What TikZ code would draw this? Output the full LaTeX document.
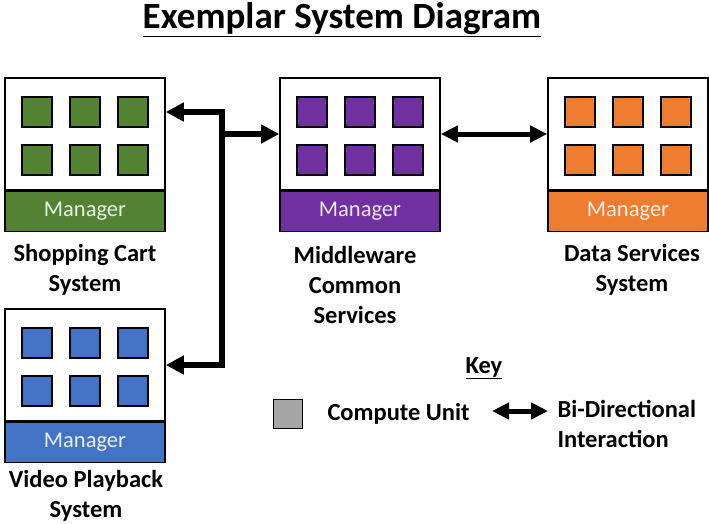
\documentclass[tikz,border=0pt]{standalone}
\usepackage{fontspec}
\setmainfont{Carlito}
\usetikzlibrary{arrows.meta,positioning,calc}
\definecolor{cartGreen}{RGB}{84,130,53}
\definecolor{midPurple}{RGB}{112,48,160}
\definecolor{dataOrange}{RGB}{237,125,49}
\definecolor{vidBlue}{RGB}{68,114,196}
\definecolor{unitGray}{RGB}{166,166,166}

\begin{document}
\begin{tikzpicture}[x=1pt,y=-1pt,
    sysbox/.style={draw, line width=1.6pt, fill=white, minimum width=160pt, minimum height=112pt, inner sep=0pt},
    mgrbar/.style={draw, line width=1.6pt, fill=#1, text=#1!12!white, minimum width=160pt, minimum height=40pt, inner sep=0pt, anchor=north, font=\fontsize{22.5}{22.5}\selectfont},
    unit/.style={draw, line width=1.4pt, fill=#1, minimum size=30pt, inner sep=0pt},
    label/.style={align=center, font=\bfseries\fontsize{24.5}{30}\selectfont},
    bus/.style={line width=6pt, {Triangle[length=18pt,width=18pt]}-{Triangle[length=18pt,width=18pt]}},
    busto/.style={line width=6pt, -{Triangle[length=18pt,width=18pt]}},
    link/.style={line width=5pt, {Triangle[length=17pt,width=16pt]}-{Triangle[length=17pt,width=16pt]}}]
  \useasboundingbox (0,0) rectangle (709,523);
  % Title
  \node[font=\bfseries\fontsize{37}{37}\selectfont] (title) at (342,20) {\underline{Exemplar System Diagram}};
  % Systems with their manager bars
  \node[sysbox] (cart) at (85,134) {};
  \node[sysbox] (mid) at (360,134) {};
  \node[sysbox] (data) at (628,134) {};
  \node[sysbox] (vid) at (85,365) {};
  \node[mgrbar=cartGreen] (cartmgr) at (cart.south) {Manager};
  \node[mgrbar=midPurple] (midmgr) at (mid.south) {Manager};
  \node[mgrbar=dataOrange] (datamgr) at (data.south) {Manager};
  \node[mgrbar=vidBlue] (vidmgr) at (vid.south) {Manager};
  % Compute units, two rows of three
  \foreach \sys/\col in {cart/cartGreen, mid/midPurple, data/dataOrange, vid/vidBlue}
    \foreach \i/\dx/\dy in {1/-48/-22, 2/0/-22, 3/48/-22, 4/-48/26, 5/0/26, 6/48/26}
      \node[unit=\col] (\sys-\i) at ($(\sys)+(\dx,\dy)$) {};
  % Labels
  \node[label] (cartlabel) at (85,270) {Shopping Cart\\System};
  \node[label] (midlabel) at (355,285) {Middleware\\Common\\Services};
  \node[label] (datalabel) at (632,270) {Data Services\\System};
  \node[label] (vidlabel) at (86,496) {Video Playback\\System};
  % Interactions
  \coordinate (busx) at (222,0);
  \draw[bus] (cart.east |- cart-3) -| (busx |- vid.east) -- (vid.east);
  \draw[busto] (busx |- mid.west) -- (mid.west);
  \draw[link] (mid.east) -- (data.west);
  % Key
  \node[label] (key) at (484,368) {\underline{Key}};
  \node[unit=unitGray, minimum size=29pt] (keyunit) at (288,414) {};
  \node[label, anchor=west] (keyunittext) at (324,414) {Compute Unit};
  \coordinate (keyL) at (492,411);
  \coordinate (keyR) at (548,411);
  \draw[link] (keyL) -- (keyR);
  \node[label, align=left, anchor=west] (keylink) at (554,424) {Bi-Directional\\Interaction};
\end{tikzpicture}
\end{document}
